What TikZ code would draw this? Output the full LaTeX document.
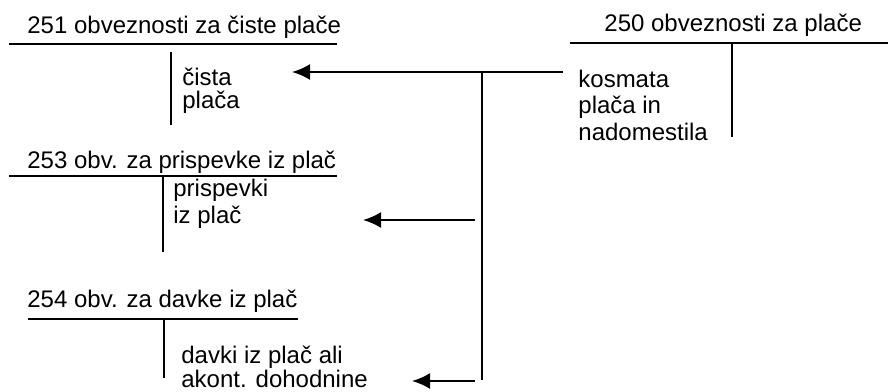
\documentclass[tikz,border=0pt]{standalone}
\usepackage{fontspec}
\setmainfont{Liberation Sans}
\usetikzlibrary{arrows.meta}

\begin{document}
\begin{tikzpicture}[x=0.5pt, y=-0.5pt,
    naslov/.style={anchor=base west, inner sep=0pt, font=\fontsize{12}{13.25}\selectfont},
    vnos/.style={anchor=base west, inner sep=0pt, align=left, font=\fontsize{12}{13.25}\selectfont},
    crta/.style={line width=1.1pt},
    puscica/.style={line width=1.1pt, -{Latex[length=9pt,width=8pt]}}]
    \useasboundingbox (0,0) rectangle (888,391);
    % konto 251
    \node[naslov] (n251) at (27,33) {251 obveznosti za čiste plače};
    \draw[crta] (9,44) -- (337,44);
    \draw[crta] (171,52) -- (171,125);
    \node[vnos, font=\fontsize{12}{11.25}\selectfont] (v251) at (182,108) {čista\\plača};
    % konto 250
    \node[naslov] (n250) at (604,32) {250 obveznosti za plače};
    \draw[crta] (570,43) -- (888,43);
    \draw[crta] (732,43) -- (732,137);
    \node[vnos] (v250) at (578,140) {kosmata\\plača in\\nadomestila};
    % konto 253
    \node[naslov] (n253) at (27,168) {253 obv. za prispevke iz plač};
    \draw[crta] (9,176) -- (337,176);
    \draw[crta] (163,176) -- (163,252);
    \node[vnos] (v253) at (173,223) {prispevki\\iz plač};
    % konto 254
    \node[naslov] (n254) at (27,307) {254 obv. za davke iz plač};
    \draw[crta] (28,319) -- (298,319);
    \draw[crta] (164,319) -- (164,378);
    \node[vnos, font=\fontsize{12}{12}\selectfont] (v254) at (181,387) {davki iz plač ali\\akont. dohodnine};
    % knjizbe
    \coordinate (z250) at (563,72);
    \coordinate (k251) at (292,72);
    \coordinate (r1) at (482,72);
    \coordinate (r2) at (482,380);
    \coordinate (z253) at (475,220);
    \coordinate (k253) at (363,220);
    \coordinate (z254) at (475,381);
    \coordinate (k254) at (412,381);
    \draw[puscica] (z250) -- (k251);
    \draw[crta] (r1) -- (r2);
    \draw[puscica] (z253) -- (k253);
    \draw[puscica] (z254) -- (k254);
\end{tikzpicture}
\end{document}
